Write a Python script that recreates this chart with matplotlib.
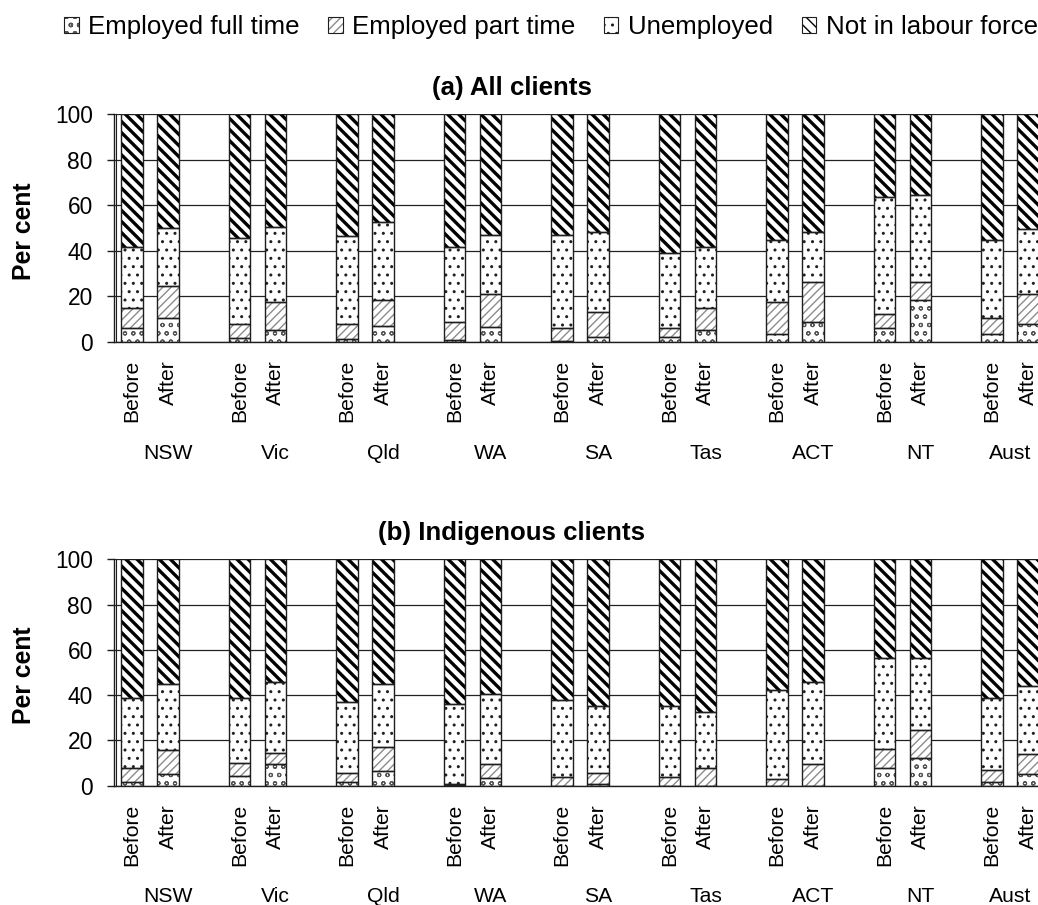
import numpy as np
import matplotlib.pyplot as plt
from matplotlib.patches import Patch
from matplotlib.legend_handler import HandlerTuple
from matplotlib.transforms import offset_copy

plt.rcParams['font.family'] = ['Liberation Sans', 'DejaVu Sans']

states = ['NSW', 'Vic', 'Qld', 'WA', 'SA', 'Tas', 'ACT', 'NT', 'Aust']
periods = ['Before', 'After']
series = ['Employed full time', 'Employed part time', 'Unemployed',
          'Not in labour force']

# (a) All clients -- labour force status, per cent
all_ft_before = [5.9, 1.5, 1.3, 0.7, 0.4, 2.1, 3.2, 5.9, 3.2]
all_pt_before = [8.9, 6.3, 6.5, 8.0, 5.5, 3.8, 14.1, 6.4, 7.2]
all_un_before = [27.0, 37.7, 38.5, 33.1, 41.2, 33.2, 27.3, 51.5, 34.2]
all_nl_before = [58.2, 54.5, 53.7, 58.2, 52.9, 60.9, 55.4, 36.2, 55.4]
all_ft_after = [10.3, 5.1, 6.9, 6.6, 2.2, 5.1, 8.5, 18.2, 7.8]
all_pt_after = [14.2, 12.3, 11.4, 14.2, 10.8, 9.6, 17.6, 8.0, 13.2]
all_un_after = [25.4, 33.2, 34.2, 26.3, 35.1, 27.1, 22.0, 38.5, 28.7]
all_nl_after = [50.1, 49.4, 47.5, 52.9, 51.9, 58.2, 51.9, 35.3, 50.3]

# (b) Indigenous clients
ind_ft_before = [1.8, 4.4, 1.8, 0.3, 0.0, 0.0, 0.0, 7.8, 1.8]
ind_pt_before = [6.0, 5.5, 3.8, 0.6, 3.7, 3.7, 2.8, 8.3, 5.3]
ind_un_before = [30.9, 28.8, 31.5, 35.2, 34.1, 31.5, 39.3, 40.3, 31.6]
ind_nl_before = [61.3, 61.3, 62.9, 63.9, 62.2, 64.8, 57.9, 43.6, 61.3]
ind_ft_after = [5.2, 9.6, 6.3, 3.5, 0.9, 0.0, 0.0, 12.4, 5.3]
ind_pt_after = [10.7, 4.7, 10.6, 6.2, 4.5, 8.0, 9.7, 12.2, 8.8]
ind_un_after = [28.9, 31.4, 27.9, 30.8, 29.9, 24.5, 36.0, 31.8, 29.9]
ind_nl_after = [55.2, 54.3, 55.2, 59.5, 64.7, 67.5, 54.3, 43.6, 56.0]

# hatch, hatch colour, hatch line width for each series
styles = [
    ('oo', '#555555', 0.8),
    ('////', '#8c8c8c', 1.0),
    ('..', '#202020', 1.0),
    ('\\\\\\', '#000000', 2.4),
]
OUTLINE = '#1e1e1e'
BAR_W = 0.6


def hatched_bar(ax, x, h, bottom, style, z=2):
    hatch, hcol, hlw = style
    bars = ax.bar(x, h, BAR_W, bottom=bottom, color='white', edgecolor=hcol,
                  linewidth=0, hatch=hatch, zorder=z)
    for b in bars:
        if hasattr(b, 'set_hatch_linewidth'):
            b.set_hatch_linewidth(hlw)
    ax.bar(x, h, BAR_W, bottom=bottom, fill=False, edgecolor=OUTLINE,
           linewidth=1.0, zorder=z + 1)


def draw_panel(ax, title, before, after):
    n = len(states)
    x_before = np.arange(n) * 3
    x_after = x_before + 1
    xs = np.concatenate([x_before, x_after])
    bottom = np.zeros(2 * n)
    for k in range(len(series)):
        vals = np.concatenate([before[k], after[k]])
        hatched_bar(ax, xs, vals, bottom, styles[k])
        bottom = bottom + vals

    ax.set_xlim(-0.5, 3 * (n - 1) + 1.5)
    ax.set_ylim(0, 100)
    ax.set_yticks(np.arange(0, 101, 20))
    ax.tick_params(axis='y', labelsize=16.4, length=5, width=1, pad=10.5,
                   color=OUTLINE)
    ax.yaxis.grid(True, color='#222222', linewidth=0.9)
    ax.set_axisbelow(True)

    ticks = np.sort(xs)
    ax.set_xticks(ticks)
    ax.set_xticklabels([periods[int(t) % 3] for t in ticks], rotation=90,
                       va='top', fontsize=15.2)
    ax.tick_params(axis='x', length=0, pad=13)

    # state names sit under the middle of each group
    centres = np.arange(n) * 3 + 1.0
    centres[-1] -= 0.5
    for c, s in zip(centres, states):
        ax.text(c, -0.5145, s, transform=ax.get_xaxis_transform(),
                ha='center', va='baseline', fontsize=15.2)

    for side in ('top', 'right'):
        ax.spines[side].set_visible(False)
    for side in ('left', 'bottom'):
        ax.spines[side].set_color(OUTLINE)
        ax.spines[side].set_linewidth(1.0)
    # second border line just inside the value axis
    tr = offset_copy(ax.get_yaxis_transform(), fig=ax.figure, x=1.7,
                     units='dots')
    ax.plot([0, 0], [0, 100], transform=tr, color=OUTLINE, linewidth=0.8,
            zorder=1, clip_on=False)

    box = ax.get_position()
    fig.text(0.493, box.y1 + 19.8 / 905, title, ha='center', va='baseline',
             fontsize=18.6, fontweight='bold')
    fig.text(24 / 1038, (box.y0 + box.y1) / 2 - 3 / 905, 'Per cent',
             rotation=90, ha='center', va='center', fontsize=17.8,
             fontweight='bold')


fig = plt.figure(figsize=(10.38, 9.05), dpi=100)
left = 114.3 / 1038
width = (1046 - 114.3) / 1038
ax_a = fig.add_axes([left, 0.6224, width, 0.2513])
ax_b = fig.add_axes([left, 0.1318, width, 0.2501])

draw_panel(ax_a, '(a) All clients',
           [all_ft_before, all_pt_before, all_un_before, all_nl_before],
           [all_ft_after, all_pt_after, all_un_after, all_nl_after])
draw_panel(ax_b, '(b) Indigenous clients',
           [ind_ft_before, ind_pt_before, ind_un_before, ind_nl_before],
           [ind_ft_after, ind_pt_after, ind_un_after, ind_nl_after])

handles = []
for hatch, hcol, hlw in styles:
    p = Patch(facecolor='white', edgecolor=hcol, linewidth=0, hatch=hatch)
    if hasattr(p, 'set_hatch_linewidth'):
        p.set_hatch_linewidth(hlw)
    handles.append((p, Patch(fill=False, edgecolor=OUTLINE, linewidth=0.8)))

fig.legend(handles, series, loc='center', bbox_to_anchor=(551 / 1038, 0.970),
           ncol=4, frameon=False, fontsize=18.6, handlelength=0.55,
           handleheight=0.55, handletextpad=0.38, columnspacing=1.1,
           borderpad=0, borderaxespad=0,
           handler_map={tuple: HandlerTuple(ndivide=1, pad=0)})

fig.savefig('out.png', dpi=100, facecolor='white')
